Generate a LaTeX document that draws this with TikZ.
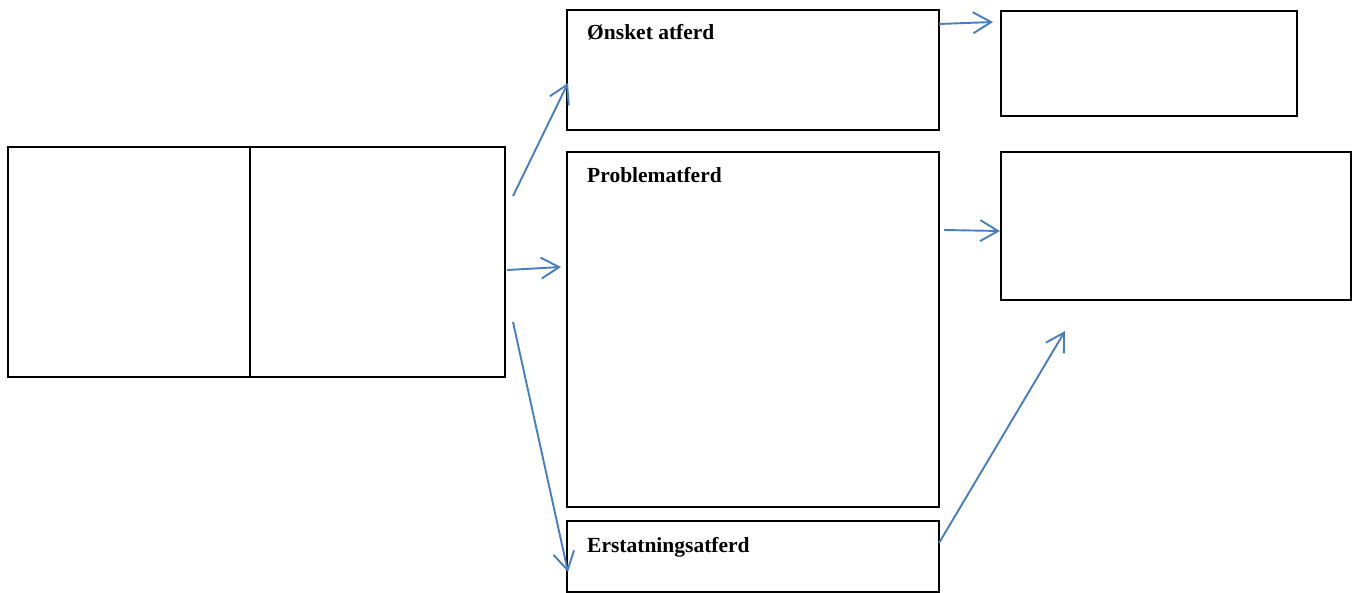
\documentclass[tikz,border=0pt]{standalone}
\usepackage{fontspec}
\setmainfont{Liberation Serif}
\usetikzlibrary{arrows.meta}
\definecolor{arrblue}{RGB}{74,126,187}
\tikzset{
  box/.style={draw=black, line width=1.8pt, inner sep=0pt, outer sep=0pt},
  lbl/.style={anchor=base west, inner sep=0pt, font=\fontsize{21.5}{24}\selectfont\bfseries},
  conn/.style={draw=arrblue, line width=1.9pt, -{Straight Barb[length=18pt,width=21pt,line width=1.9pt]}}
}
\begin{document}
\begin{tikzpicture}[x=1pt,y=-1pt]
\useasboundingbox (0,0) rectangle (1362,593);
% boxes
\node[box, minimum width=242pt, minimum height=230pt] (la) at (129,262) {};
\node[box, minimum width=255pt, minimum height=230pt] (lb) at (377.5,262) {};
\node[box, minimum width=372pt, minimum height=120pt] (ons) at (753,70) {};
\node[box, minimum width=372pt, minimum height=355pt] (prob) at (753,329.5) {};
\node[box, minimum width=372pt, minimum height=71pt] (ers) at (753,556.5) {};
\node[box, minimum width=296pt, minimum height=105pt] (rt) at (1149,63.5) {};
\node[box, minimum width=350pt, minimum height=148pt] (rm) at (1176,226) {};
% labels
\node[lbl] (t1) at (587,40) {Ønsket atferd};
\node[lbl] (t2) at (587,183) {Problematferd};
\node[lbl] (t3) at (587,552) {Erstatningsatferd};
% connector endpoints
\coordinate (s1) at (513,196);
\coordinate (e1) at (568,83);
\coordinate (s2) at (507,270);
\coordinate (e2) at (561,267);
\coordinate (s3) at (513,322);
\coordinate (e3) at (568,572);
\coordinate (s4) at (939,24);
\coordinate (e4) at (993,22);
\coordinate (s5) at (944,230);
\coordinate (e5) at (1000,231);
\coordinate (s6) at (939,543);
\coordinate (e6) at (1065,331);
\draw[conn] (s1) -- (e1);
\draw[conn] (s2) -- (e2);
\draw[conn] (s3) -- (e3);
\draw[conn] (s4) -- (e4);
\draw[conn] (s5) -- (e5);
\draw[conn] (s6) -- (e6);
\end{tikzpicture}
\end{document}
